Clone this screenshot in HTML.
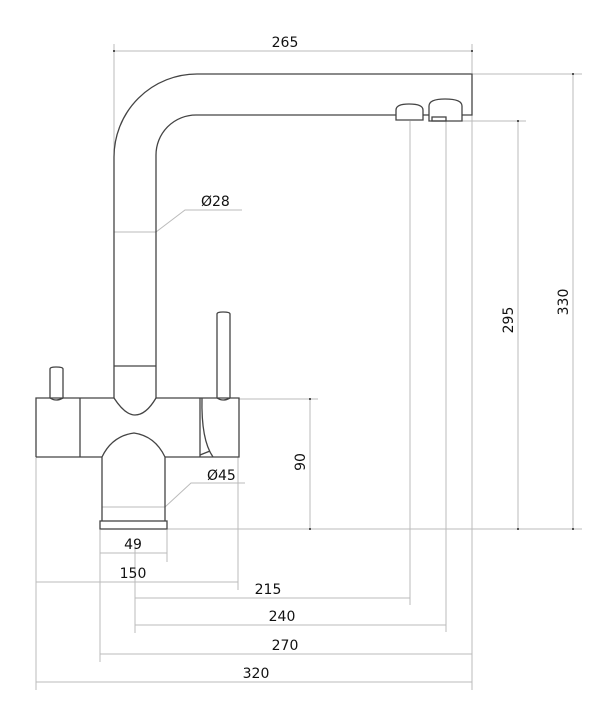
<!DOCTYPE html>
<html><head><meta charset="utf-8"><style>
html,body{margin:0;padding:0;background:#fff;}
svg{display:block}
text{font-family:"DejaVu Sans","Liberation Sans",sans-serif;font-size:14px;fill:#111}
</style></head><body>
<svg width="611" height="720" viewBox="0 0 611 720" xmlns="http://www.w3.org/2000/svg">
<g fill="none" stroke="#bbb" stroke-width="1">
<!-- 265 -->
<line x1="114" y1="44" x2="114" y2="180"/><line x1="472" y1="44" x2="472" y2="73"/>
<line x1="114" y1="51" x2="472" y2="51"/>
<!-- 330 -->
<line x1="472" y1="74" x2="582" y2="74"/><line x1="573" y1="74" x2="573" y2="529"/>
<line x1="167" y1="529" x2="582" y2="529"/>
<!-- 295 -->
<line x1="462" y1="121" x2="526" y2="121"/><line x1="518" y1="121" x2="518" y2="529"/>
<!-- 90 -->
<line x1="239" y1="399" x2="318" y2="399"/><line x1="310" y1="399" x2="310" y2="529"/>
<!-- verticals -->
<line x1="410" y1="121" x2="410" y2="605"/>
<line x1="446" y1="121" x2="446" y2="632"/>
<line x1="472" y1="115" x2="472" y2="690"/>
<line x1="36" y1="457" x2="36" y2="690"/>
<line x1="100" y1="530" x2="100" y2="662"/>
<line x1="167" y1="530" x2="167" y2="562"/>
<line x1="238" y1="457" x2="238" y2="590"/>
<line x1="135" y1="540" x2="135" y2="633"/>
<!-- horizontals -->
<line x1="100" y1="553" x2="167" y2="553"/>
<line x1="36" y1="582" x2="238" y2="582"/>
<line x1="135" y1="598" x2="410" y2="598"/>
<line x1="135" y1="625" x2="446" y2="625"/>
<line x1="100" y1="654" x2="472" y2="654"/>
<line x1="36" y1="682" x2="472" y2="682"/>
<!-- leaders -->
<polyline points="156,232 185,210 242,210"/>
<polyline points="165,507 191,483 245,483"/>
<line x1="114" y1="232" x2="156" y2="232"/>
<line x1="102" y1="507" x2="165" y2="507"/>
</g>
<g fill="none" stroke="#444" stroke-width="1.3">
<!-- spout -->
<path d="M114,398 L114,157 A83,83 0 0 1 197,74 L472,74 L472,115 L462,115"/>
<path d="M156,398 L156,155 A40,40 0 0 1 196,115 L396,115"/>
<path d="M396,120 L396,110 Q396,104 409,104 Q423,104 423,110 L423,120 Z"/>
<line x1="423" y1="115" x2="429" y2="115"/>
<path d="M429,121 L429,106 Q429,99 445,99 Q462,99 462,106 L462,121 Z"/>
<rect x="432" y="117" width="14" height="4"/>
<line x1="114" y1="366" x2="156" y2="366"/>
<path d="M114,398 Q125,415 135,415 Q146,415 156,398"/>
<!-- body -->
<path d="M36,457 L36,398 L114,398 M156,398 L239,398 L239,457 L165,457 M102,457 L36,457"/>
<line x1="80" y1="398" x2="80" y2="457"/>
<line x1="200" y1="398" x2="200" y2="457"/>
<path d="M202,398 Q201,440 213,457"/>
<line x1="200" y1="455" x2="210" y2="451"/>
<!-- knobs -->
<path d="M50,398 L50,369 Q50,367 56,367 Q63,367 63,369 L63,398"/>
<path d="M50,398 Q56,402 63,398"/>
<path d="M217,398 L217,314 Q217,312 223,312 Q230,312 230,314 L230,398"/>
<path d="M217,398 Q223,402 230,398"/>
<!-- base -->
<path d="M102,521 L102,457 Q112,436 134,433 Q155,436 165,457 L165,521"/>
<rect x="100" y="521" width="67" height="8"/>
</g>
<g fill="#222">
<circle cx="472" cy="51" r="1"/><circle cx="114" cy="51" r="1"/>
<circle cx="573" cy="74" r="1"/><circle cx="573" cy="529" r="1"/>
<circle cx="518" cy="121" r="1"/><circle cx="518" cy="529" r="1"/>
<circle cx="310" cy="399" r="1"/><circle cx="310" cy="529" r="1"/>
</g>
<text x="285" y="47" text-anchor="middle">265</text>
<text x="201" y="206">Ø28</text>
<text x="207" y="480">Ø45</text>
<text x="133" y="549" text-anchor="middle">49</text>
<text x="133" y="578" text-anchor="middle">150</text>
<text x="268" y="594" text-anchor="middle">215</text>
<text x="282" y="621" text-anchor="middle">240</text>
<text x="285" y="650" text-anchor="middle">270</text>
<text x="256" y="678" text-anchor="middle">320</text>
<text transform="translate(305,462) rotate(-90)" text-anchor="middle">90</text>
<text transform="translate(513,320) rotate(-90)" text-anchor="middle">295</text>
<text transform="translate(568,302) rotate(-90)" text-anchor="middle">330</text>
</svg>
</body></html>
